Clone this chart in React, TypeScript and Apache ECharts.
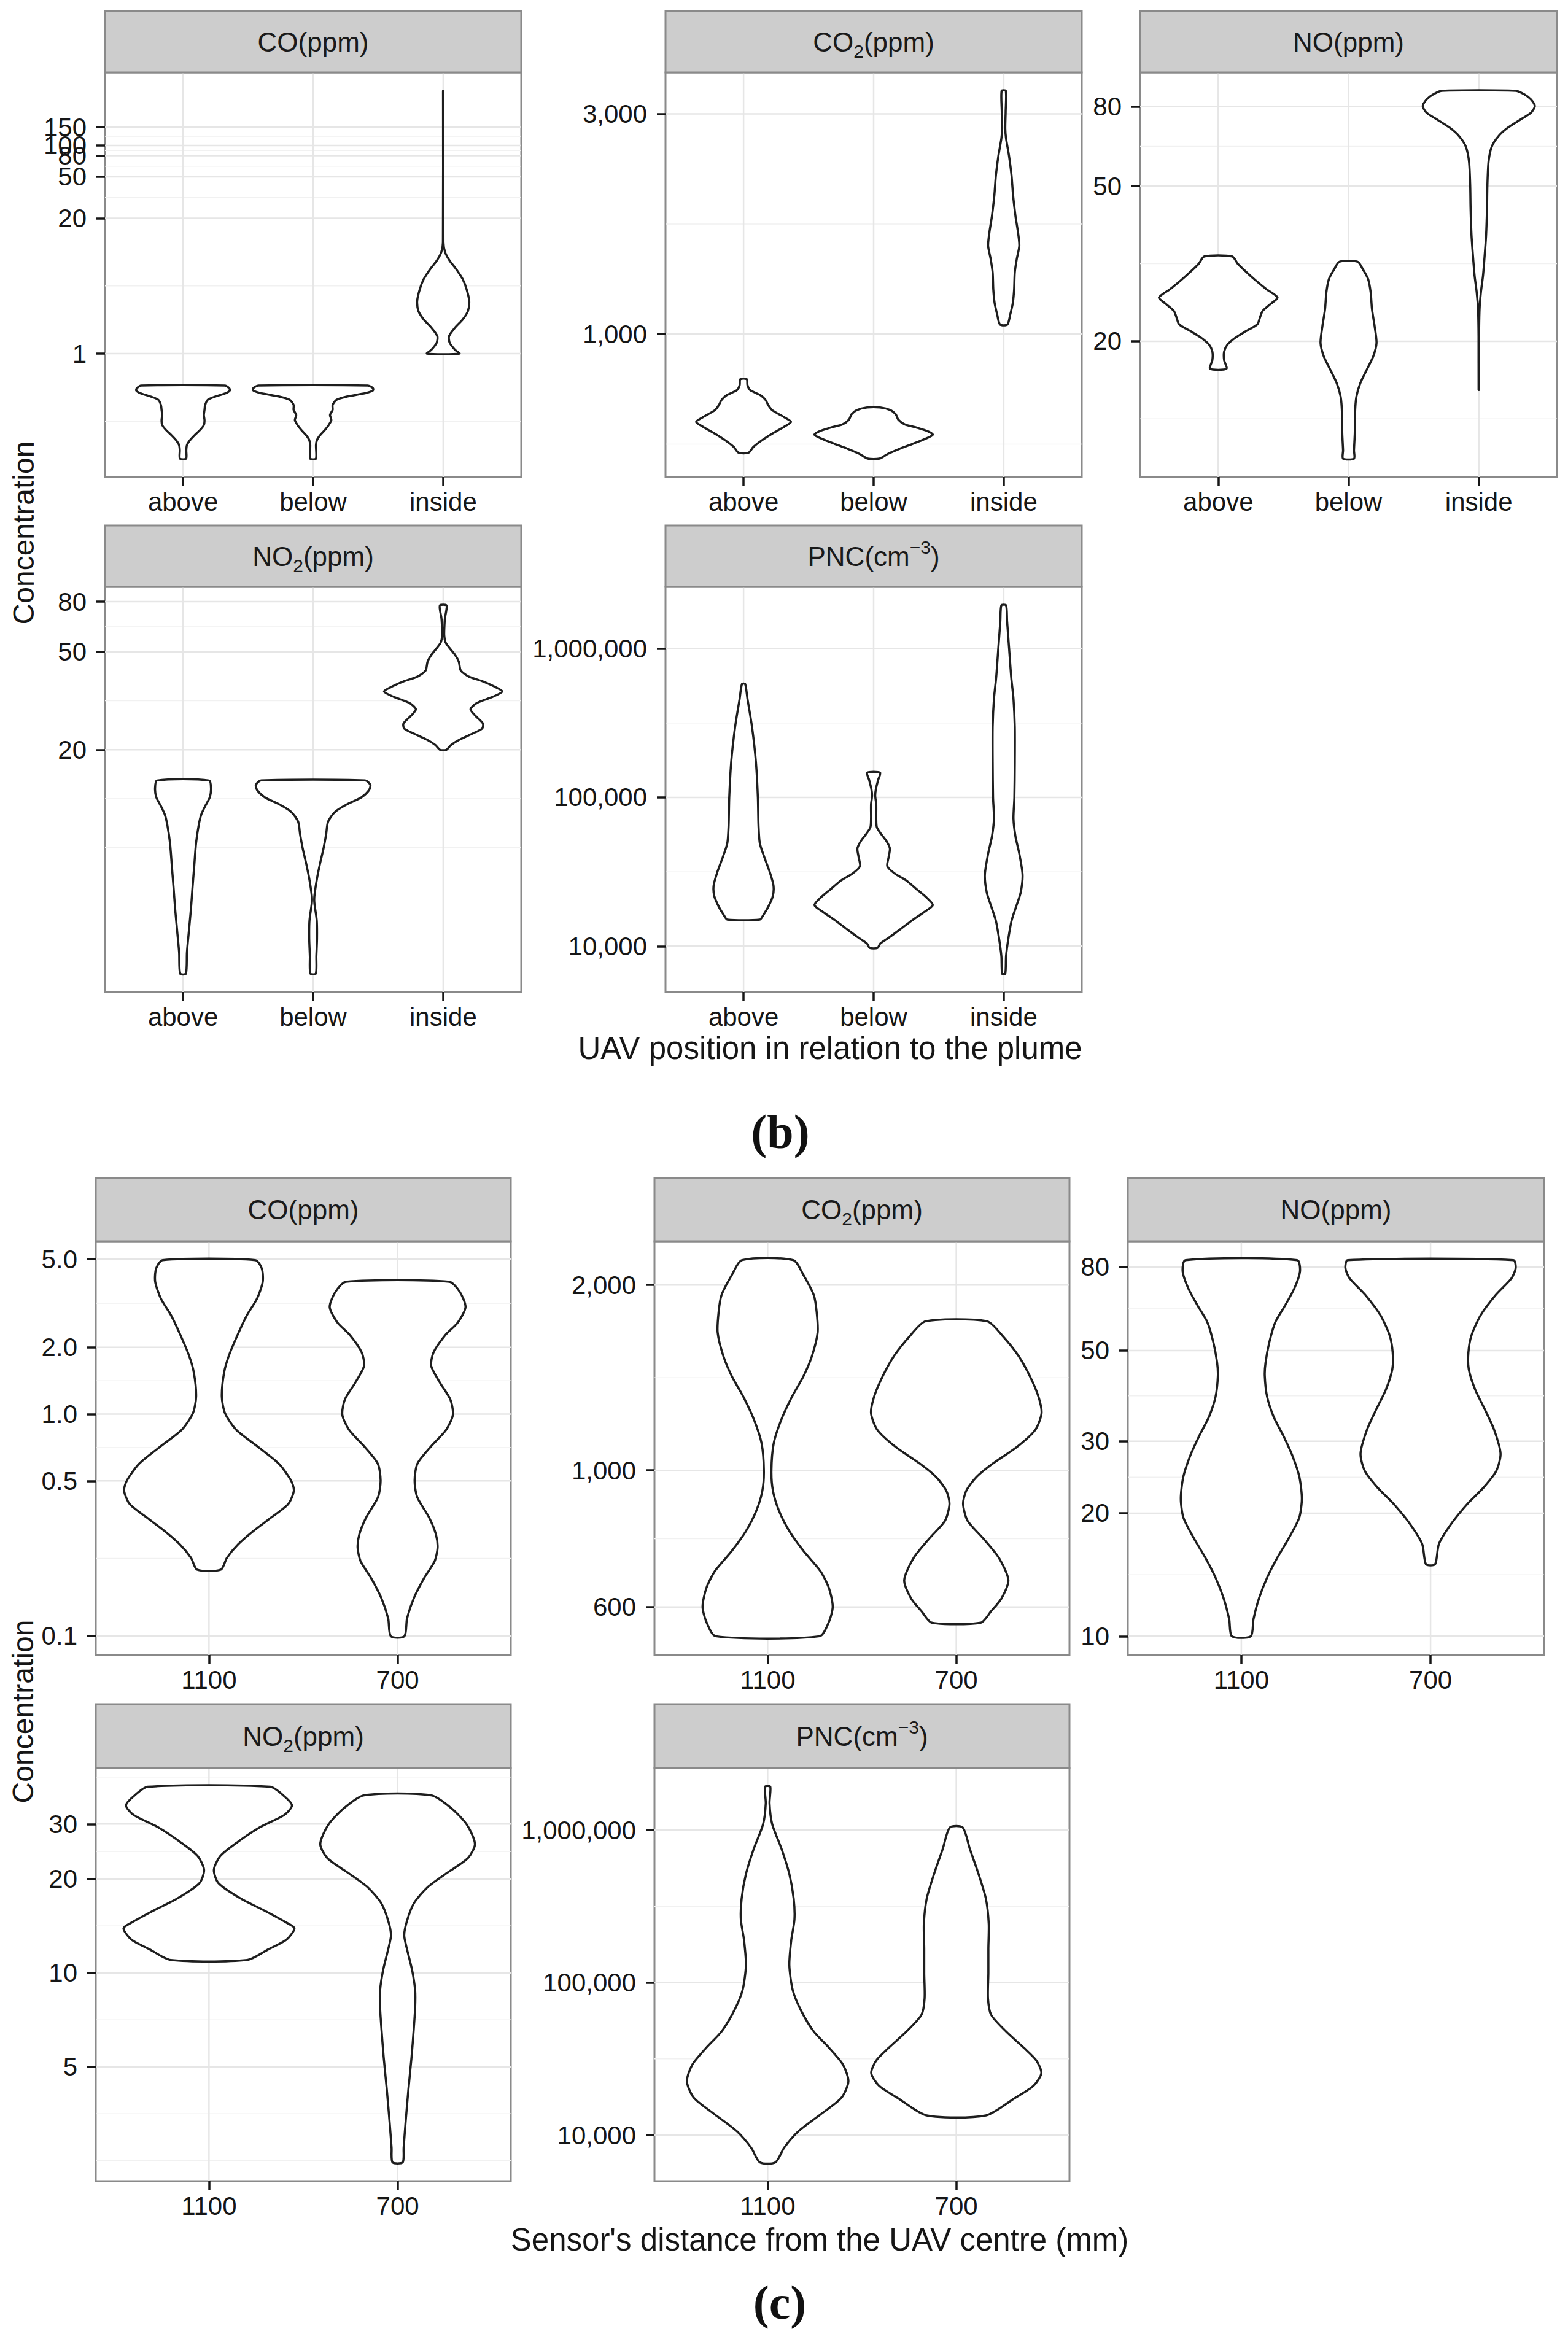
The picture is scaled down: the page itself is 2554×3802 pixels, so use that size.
import React, { useEffect, useRef } from 'react';
import * as echarts from 'echarts';

type Profile = [number, number][]; // [concentration, half-width in category units]

// ---------- categories ----------
const bCategories = ['above', 'below', 'inside'];
const cCategories = ['1100', '700'];

// ---------- (b) tick breaks ----------
const bCO_ticks = [1, 20, 50, 80, 100, 150];
const bCO_labels = ['1', '20', '50', '80', '100', '150'];
const bCO2_ticks = [1000, 3000];
const bCO2_labels = ['1,000', '3,000'];
const bNO_ticks = [20, 50, 80];
const bNO_labels = ['20', '50', '80'];
const bNO2_ticks = [20, 50, 80];
const bNO2_labels = ['20', '50', '80'];
const bPNC_ticks = [10000, 100000, 1000000];
const bPNC_labels = ['10,000', '100,000', '1,000,000'];

// ---------- (c) tick breaks ----------
const cCO_ticks = [0.1, 0.5, 1, 2, 5];
const cCO_labels = ['0.1', '0.5', '1.0', '2.0', '5.0'];
const cCO2_ticks = [600, 1000, 2000];
const cCO2_labels = ['600', '1,000', '2,000'];
const cNO_ticks = [10, 20, 30, 50, 80];
const cNO_labels = ['10', '20', '30', '50', '80'];
const cNO2_ticks = [5, 10, 20, 30];
const cNO2_labels = ['5', '10', '20', '30'];
const cPNC_ticks = [10000, 100000, 1000000];
const cPNC_labels = ['10,000', '100,000', '1,000,000'];

// ---------- (b) violin outlines ----------
const bCO_above: Profile = [[0.494, 0.32], [0.466, 0.355], [0.442, 0.36], [0.417, 0.33], [0.387, 0.25], [0.36, 0.19], [0.321, 0.17], [0.288, 0.165], [0.257, 0.16], [0.23, 0.165], [0.206, 0.16], [0.184, 0.13], [0.165, 0.09], [0.148, 0.055], [0.132, 0.03], [0.118, 0.025], [0.098, 0.024]];
const bCO_below: Profile = [[0.494, 0.42], [0.466, 0.46], [0.442, 0.46], [0.417, 0.4], [0.387, 0.26], [0.36, 0.18], [0.321, 0.15], [0.288, 0.15], [0.257, 0.13], [0.23, 0.14], [0.206, 0.12], [0.184, 0.09], [0.165, 0.055], [0.148, 0.03], [0.132, 0.022], [0.098, 0.022]];
const bCO_inside: Profile = [[335, 0.0012], [11.7, 0.002], [9.4, 0.015], [7.8, 0.05], [6.48, 0.1], [5.19, 0.15], [4.15, 0.18], [3.2, 0.2], [2.56, 0.19], [2.13, 0.15], [1.77, 0.09], [1.47, 0.045], [1.27, 0.05], [1.09, 0.09], [1.0, 0.125]];

const bCO2_above: Profile = [[798, 0.025], [775, 0.03], [756, 0.05], [737, 0.13], [719, 0.17], [701, 0.19], [684, 0.22], [661, 0.31], [645, 0.365], [629, 0.31], [608, 0.22], [588, 0.14], [569, 0.075], [553, 0.038]];
const bCO2_below: Profile = [[693, 0.05], [684, 0.13], [670, 0.17], [652, 0.19], [637, 0.24], [627, 0.33], [615, 0.42], [605, 0.455], [593, 0.4], [578, 0.3], [564, 0.2], [550, 0.11], [537, 0.045]];
const bCO2_inside: Profile = [[3367, 0.016], [3036, 0.015], [2791, 0.012], [2655, 0.018], [2442, 0.04], [2208, 0.06], [1998, 0.072], [1806, 0.09], [1661, 0.11], [1554, 0.12], [1453, 0.1], [1359, 0.085], [1249, 0.08], [1168, 0.07], [1102, 0.05], [1048, 0.028]];

const bNO_above: Profile = [[33.0, 0.107], [31.6, 0.15], [30.0, 0.22], [28.6, 0.29], [27.2, 0.37], [25.9, 0.455], [24.9, 0.4], [23.9, 0.34], [23.0, 0.32], [22.1, 0.3], [21.2, 0.21], [20.4, 0.13], [19.6, 0.07], [18.8, 0.045], [17.9, 0.045], [17.0, 0.063]];
const bNO_below: Profile = [[32.0, 0.07], [30.6, 0.11], [28.9, 0.15], [26.7, 0.17], [24.2, 0.18], [21.9, 0.2], [19.8, 0.215], [18.3, 0.19], [16.9, 0.14], [15.6, 0.09], [14.4, 0.06], [13.1, 0.05], [11.6, 0.048], [10.5, 0.042], [10.0, 0.042]];
const bNO_inside: Profile = [[87.8, 0.285], [86.0, 0.35], [83.5, 0.4], [80.2, 0.43], [77.1, 0.4], [74.1, 0.32], [70.5, 0.22], [67.1, 0.15], [63.2, 0.1], [57.8, 0.075], [50.3, 0.066], [43.8, 0.063], [37.4, 0.056], [33.2, 0.045], [29.4, 0.032], [26.7, 0.016], [24.2, 0.006], [20.6, 0.002], [15.0, 0.0015]];

const bNO2_above: Profile = [[15.0, 0.2], [13.9, 0.215], [12.8, 0.205], [11.8, 0.17], [10.9, 0.14], [9.84, 0.12], [8.34, 0.1], [6.62, 0.085], [5.43, 0.072], [4.46, 0.06], [3.66, 0.045], [3.0, 0.03], [2.46, 0.022]];
const bNO2_below: Profile = [[15.0, 0.4], [14.4, 0.44], [13.7, 0.43], [12.8, 0.37], [12.0, 0.26], [11.2, 0.17], [10.2, 0.115], [9.06, 0.1], [7.94, 0.08], [6.96, 0.055], [6.0, 0.03], [5.09, 0.01], [4.76, 0.01], [4.04, 0.028], [3.42, 0.03], [2.9, 0.025], [2.46, 0.021]];
const bNO2_inside: Profile = [[77.3, 0.025], [73.6, 0.024], [68.9, 0.014], [64.5, 0.01], [58.4, 0.008], [54.7, 0.018], [52.1, 0.045], [48.7, 0.09], [45.6, 0.12], [42.0, 0.135], [39.6, 0.2], [38.0, 0.3], [36.2, 0.39], [34.5, 0.455], [32.8, 0.38], [31.0, 0.26], [29.2, 0.21], [27.4, 0.25], [25.6, 0.305], [24.4, 0.3], [23.2, 0.22], [21.9, 0.12], [20.9, 0.06], [20.0, 0.025]];

const bPNC_above: Profile = [[579000, 0.012], [461000, 0.03], [298000, 0.065], [173000, 0.095], [100000, 0.11], [64600, 0.115], [49200, 0.125], [39600, 0.16], [31800, 0.2], [25600, 0.23], [21700, 0.225], [18400, 0.19], [16100, 0.15], [15100, 0.125]];
const bPNC_below: Profile = [[146600, 0.05], [131400, 0.035], [114600, 0.018], [102800, 0.012], [89700, 0.02], [72100, 0.02], [62900, 0.025], [56400, 0.06], [50600, 0.1], [45300, 0.125], [39600, 0.115], [34500, 0.105], [30900, 0.16], [27700, 0.25], [24200, 0.33], [21100, 0.41], [18900, 0.455], [17000, 0.39], [14800, 0.29], [12900, 0.2], [11300, 0.11], [10400, 0.05], [9730, 0.03]];
const bPNC_inside: Profile = [[1957000, 0.018], [1530000, 0.026], [989000, 0.042], [639000, 0.058], [461000, 0.075], [298000, 0.085], [173000, 0.085], [100000, 0.082], [72100, 0.075], [54900, 0.09], [41800, 0.12], [30100, 0.145], [22900, 0.13], [18400, 0.095], [14800, 0.06], [11300, 0.036], [8580, 0.018], [6540, 0.012]];

// ---------- (c) violin outlines ----------
const cCO_1100: Profile = [[4.95, 0.245], [4.54, 0.28], [3.95, 0.285], [3.32, 0.255], [2.78, 0.2], [2.26, 0.15], [1.83, 0.105], [1.537, 0.08], [1.203, 0.068], [1.01, 0.085], [0.849, 0.145], [0.712, 0.26], [0.598, 0.37], [0.502, 0.435], [0.452, 0.45], [0.393, 0.42], [0.342, 0.33], [0.297, 0.235], [0.259, 0.155], [0.225, 0.095], [0.199, 0.063]];
const cCO_700: Profile = [[3.95, 0.274], [3.555, 0.33], [3.038, 0.36], [2.596, 0.32], [2.258, 0.25], [1.895, 0.19], [1.648, 0.178], [1.384, 0.225], [1.162, 0.28], [0.993, 0.293], [0.849, 0.257], [0.712, 0.175], [0.598, 0.105], [0.502, 0.09], [0.422, 0.104], [0.342, 0.167], [0.287, 0.203], [0.25, 0.212], [0.217, 0.196], [0.182, 0.14], [0.148, 0.086], [0.12, 0.05], [0.0997, 0.036]];

const cCO2_1100: Profile = [[2195, 0.135], [2075, 0.19], [1924, 0.245], [1806, 0.26], [1675, 0.265], [1534, 0.235], [1422, 0.19], [1319, 0.13], [1208, 0.072], [1106, 0.032], [1000, 0.02], [927, 0.028], [860, 0.06], [797, 0.115], [740, 0.19], [686, 0.28], [644, 0.325], [601, 0.345], [568, 0.325], [538, 0.275]];
const cCO2_700: Profile = [[1746, 0.163], [1654, 0.245], [1534, 0.33], [1422, 0.39], [1319, 0.435], [1238, 0.452], [1163, 0.418], [1092, 0.322], [1025, 0.192], [975, 0.106], [927, 0.053], [882, 0.036], [828, 0.06], [777, 0.14], [721, 0.226], [664, 0.276], [620, 0.24], [590, 0.183], [566, 0.13]];

const cNO_1100: Profile = [[83.2, 0.295], [78.0, 0.31], [70.9, 0.28], [64.5, 0.232], [58.7, 0.18], [52.4, 0.148], [46.7, 0.128], [43.3, 0.124], [38.6, 0.136], [34.5, 0.17], [30.8, 0.224], [27.5, 0.272], [24.5, 0.307], [21.7, 0.32], [19.5, 0.306], [17.4, 0.252], [15.5, 0.188], [13.9, 0.136], [12.4, 0.094], [11.0, 0.064], [10.0, 0.05]];
const cNO_700: Profile = [[83.2, 0.438], [79.5, 0.45], [75.1, 0.428], [68.3, 0.344], [60.9, 0.264], [54.4, 0.216], [49.4, 0.2], [45.0, 0.202], [40.1, 0.236], [35.8, 0.288], [32.0, 0.336], [28.0, 0.37], [25.4, 0.348], [23.1, 0.28], [21.0, 0.192], [18.8, 0.108], [16.8, 0.044], [15.0, 0.024]];

const cNO2_1100: Profile = [[39.5, 0.324], [36.8, 0.4], [34.4, 0.44], [32.1, 0.4], [29.3, 0.27], [26.3, 0.153], [23.7, 0.06], [21.4, 0.026], [19.4, 0.05], [17.4, 0.162], [15.7, 0.306], [14.5, 0.41], [13.9, 0.453], [12.8, 0.412], [11.9, 0.315], [11.0, 0.203]];
const cNO2_700: Profile = [[37.1, 0.178], [33.6, 0.288], [29.8, 0.368], [25.9, 0.41], [23.3, 0.372], [20.9, 0.261], [18.8, 0.158], [16.7, 0.086], [14.7, 0.05], [13.2, 0.035], [11.9, 0.05], [10.2, 0.077], [8.77, 0.093], [7.76, 0.093], [6.66, 0.086], [5.38, 0.074], [4.21, 0.057], [3.3, 0.042], [2.75, 0.032], [2.47, 0.027]];

const cPNC_1100: Profile = [[1925000, 0.014], [1498000, 0.01], [1095000, 0.024], [752000, 0.074], [516000, 0.115], [355000, 0.138], [259000, 0.142], [189500, 0.125], [130100, 0.115], [89300, 0.133], [65300, 0.178], [47700, 0.245], [37200, 0.327], [28900, 0.4], [22500, 0.428], [17500, 0.39], [13640, 0.279], [10600, 0.163], [8260, 0.087], [6630, 0.041]];
const cPNC_700: Profile = [[1041000, 0.034], [752000, 0.072], [516000, 0.118], [355000, 0.157], [243000, 0.172], [167200, 0.17], [114800, 0.17], [78800, 0.168], [61400, 0.185], [47700, 0.265], [37200, 0.36], [30800, 0.425], [25500, 0.451], [21100, 0.41], [17500, 0.31], [13470, 0.157]];

// ---------- texts ----------
const bXTitle = 'UAV position in relation to the plume';
const cXTitle = "Sensor's distance from the UAV centre (mm)";
const yTitle = 'Concentration';
const bCaption = '(b)';
const cCaption = '(c)';

interface PanelSpec {
  fig: 'b' | 'c';
  row: number;
  col: number;
  title: string;
  cats: string[];
  violins: Profile[];
  ticks: number[];
  tickLabels: string[];
}

const panels: PanelSpec[] = [
  { fig: 'b', row: 0, col: 0, title: '{n|CO(ppm)}', cats: bCategories, violins: [bCO_above, bCO_below, bCO_inside], ticks: bCO_ticks, tickLabels: bCO_labels },
  { fig: 'b', row: 0, col: 1, title: '{n|CO}{s|2}{n|(ppm)}', cats: bCategories, violins: [bCO2_above, bCO2_below, bCO2_inside], ticks: bCO2_ticks, tickLabels: bCO2_labels },
  { fig: 'b', row: 0, col: 2, title: '{n|NO(ppm)}', cats: bCategories, violins: [bNO_above, bNO_below, bNO_inside], ticks: bNO_ticks, tickLabels: bNO_labels },
  { fig: 'b', row: 1, col: 0, title: '{n|NO}{s|2}{n|(ppm)}', cats: bCategories, violins: [bNO2_above, bNO2_below, bNO2_inside], ticks: bNO2_ticks, tickLabels: bNO2_labels },
  { fig: 'b', row: 1, col: 1, title: '{n|PNC(cm}{p|\u22123}{n|)}', cats: bCategories, violins: [bPNC_above, bPNC_below, bPNC_inside], ticks: bPNC_ticks, tickLabels: bPNC_labels },
  { fig: 'c', row: 0, col: 0, title: '{n|CO(ppm)}', cats: cCategories, violins: [cCO_1100, cCO_700], ticks: cCO_ticks, tickLabels: cCO_labels },
  { fig: 'c', row: 0, col: 1, title: '{n|CO}{s|2}{n|(ppm)}', cats: cCategories, violins: [cCO2_1100, cCO2_700], ticks: cCO2_ticks, tickLabels: cCO2_labels },
  { fig: 'c', row: 0, col: 2, title: '{n|NO(ppm)}', cats: cCategories, violins: [cNO_1100, cNO_700], ticks: cNO_ticks, tickLabels: cNO_labels },
  { fig: 'c', row: 1, col: 0, title: '{n|NO}{s|2}{n|(ppm)}', cats: cCategories, violins: [cNO2_1100, cNO2_700], ticks: cNO2_ticks, tickLabels: cNO2_labels },
  { fig: 'c', row: 1, col: 1, title: '{n|PNC(cm}{p|\u22123}{n|)}', cats: cCategories, violins: [cPNC_1100, cPNC_700], ticks: cPNC_ticks, tickLabels: cPNC_labels },
];

// ---------- layout (pixels) ----------
const LAYOUT: any = {
  b: {
    cols: [[171, 678], [1084, 678], [1857, 679]],
    rows: [{ strip: 18, top: 118, bottom: 777 }, { strip: 856, top: 956, bottom: 1616 }],
    xTitle: { x: 1352, y: 1707 },
    yTitle: { x: 38, y: 868 },
    caption: { x: 1271, y: 1843 },
  },
  c: {
    cols: [[156, 676], [1066, 676], [1837, 678]],
    rows: [{ strip: 1919, top: 2022, bottom: 2696 }, { strip: 2776, top: 2880, bottom: 3553 }],
    xTitle: { x: 1335, y: 3648 },
    yTitle: { x: 37, y: 2788 },
    caption: { x: 1270, y: 3750 },
  },
};

const FONT = "'Liberation Sans', Arial, Helvetica, sans-serif";
const SERIF = "'Liberation Serif', 'DejaVu Serif', serif";
const TEXT_COLOR = '#161616';
const BORDER = '#8a8a8a';
const STRIP_FILL = '#cdcdcd';
const GRID_MAJOR = '#e6e6e6';
const GRID_MINOR = '#f1f1f1';
const OUTLINE = '#1e1e1e';

function minorBreaks(major: number[], lo: number, hi: number): number[] {
  const b = major.slice();
  if (b.length < 2) return [];
  const bd = b[1] - b[0];
  if (lo < b[0]) b.unshift(b[0] - bd);
  if (hi > b[b.length - 1]) b.push(b[b.length - 1] + bd);
  const out: number[] = [];
  for (let i = 0; i < b.length - 1; i++) {
    out.push(b[i], (b[i] + b[i + 1]) / 2);
  }
  out.push(b[b.length - 1]);
  return out.filter((v) => v >= lo && v <= hi && !major.some((m) => Math.abs(m - v) < 1e-9));
}

function buildOption() {
  const grid: any[] = [];
  const xAxis: any[] = [];
  const yAxis: any[] = [];
  const series: any[] = [];
  const graphic: any[] = [];

  panels.forEach((p, i) => {
    const L = LAYOUT[p.fig];
    const [left, width] = L.cols[p.col];
    const r = L.rows[p.row];
    const top = r.top;
    const height = r.bottom - r.top;

    const logs = p.violins.flatMap((v) => v.map((d) => Math.log10(d[0])));
    const dmin = Math.min(...logs);
    const dmax = Math.max(...logs);
    const pad = (dmax - dmin) * 0.05;
    const lo = dmin - pad;
    const hi = dmax + pad;
    const n = p.cats.length;
    const xmin = 0.4;
    const xmax = n + 0.6;
    const catPos = p.cats.map((_, k) => k + 1);
    const tickLogs = p.ticks.map((t) => Math.log10(t));

    grid.push({ left, top, width, height, show: true, borderColor: BORDER, borderWidth: 3, backgroundColor: '#ffffff', containLabel: false });

    xAxis.push({
      type: 'value', gridIndex: i, min: xmin, max: xmax,
      axisLine: { show: false, onZero: false },
      splitLine: { show: false },
      axisTick: { show: true, customValues: catPos, length: 14, lineStyle: { color: TEXT_COLOR, width: 3.5 } },
      axisLabel: {
        show: true, customValues: catPos, margin: 19, fontSize: 42, color: TEXT_COLOR, fontFamily: FONT,
        hideOverlap: false,
        formatter: (v: number) => p.cats[Math.round(v) - 1] ?? '',
      },
    });

    // two y axes per panel (alternating breaks) so that closely spaced labels are all kept
    const labelFor = (v: number) => {
      let best = 0;
      tickLogs.forEach((t, k) => { if (Math.abs(t - v) < Math.abs(tickLogs[best] - v)) best = k; });
      return p.tickLabels[best];
    };
    [0, 1].forEach((parity) => {
      const vals = tickLogs.filter((_, k) => k % 2 === parity);
      yAxis.push({
        type: 'value', gridIndex: i, min: lo, max: hi, position: 'left', offset: 0,
        show: vals.length > 0,
        axisLine: { show: false, onZero: false },
        splitLine: { show: false },
        axisTick: { show: vals.length > 0, customValues: vals.length ? vals : [lo], length: 14, lineStyle: { color: TEXT_COLOR, width: 3.5 } },
        axisLabel: {
          show: vals.length > 0, customValues: vals.length ? vals : [lo], margin: 30, fontSize: 42, color: TEXT_COLOR, fontFamily: FONT,
          hideOverlap: false,
          formatter: labelFor,
        },
      });
    });
    const yIdx = 2 * i;

    // grid lines (minor, major horizontal, vertical)
    const gridData: number[][] = [];
    minorBreaks(tickLogs, lo, hi).forEach((v) => gridData.push([0, v]));
    tickLogs.forEach((v) => gridData.push([1, v]));
    catPos.forEach((v) => gridData.push([2, v]));
    series.push({
      type: 'custom', xAxisIndex: i, yAxisIndex: yIdx, z: 1, silent: true, animation: false,
      data: gridData,
      renderItem: (_params: any, api: any) => {
        const kind = api.value(0);
        const v = api.value(1);
        if (kind === 2) {
          const a = api.coord([v, lo]);
          const b = api.coord([v, hi]);
          return { type: 'line', shape: { x1: a[0], y1: a[1], x2: b[0], y2: b[1] }, style: { stroke: GRID_MAJOR, lineWidth: 2.5 } };
        }
        const a = api.coord([xmin, v]);
        const b = api.coord([xmax, v]);
        return {
          type: 'line', shape: { x1: a[0], y1: a[1], x2: b[0], y2: b[1] },
          style: { stroke: kind === 1 ? GRID_MAJOR : GRID_MINOR, lineWidth: kind === 1 ? 2.5 : 1.5 },
        };
      },
    });

    // violins
    series.push({
      type: 'custom', xAxisIndex: i, yAxisIndex: yIdx, z: 3, silent: true, animation: false,
      data: p.violins.map((_, k) => [k + 1, k]),
      renderItem: (params: any, api: any) => {
        const prof = p.violins[params.dataIndex];
        const cx = api.value(0);
        const right = prof.map(([val, hw]) => api.coord([cx + hw, Math.log10(val)]));
        const leftSide = prof.slice().reverse().map(([val, hw]) => api.coord([cx - hw, Math.log10(val)]));
        return {
          type: 'polygon',
          shape: { points: right.concat(leftSide), smooth: 0.25 },
          style: { fill: '#ffffff', stroke: OUTLINE, lineWidth: 3.5, lineJoin: 'round' },
        };
      },
    });

    // strip
    graphic.push({
      type: 'rect', z: 10, silent: true,
      shape: { x: left, y: r.strip, width, height: top - r.strip },
      style: { fill: STRIP_FILL, stroke: BORDER, lineWidth: 3 },
    });
    graphic.push({
      type: 'text', z: 11, silent: true,
      x: left + width / 2, y: (r.strip + top) / 2,
      style: {
        text: p.title,
        align: 'center', verticalAlign: 'middle', textAlign: 'center', textVerticalAlign: 'middle',
        fill: '#1a1a1a',
        rich: {
          n: { fontSize: 44, fontFamily: FONT, fill: '#1a1a1a', color: '#1a1a1a', lineHeight: 60 },
          s: { fontSize: 30, fontFamily: FONT, fill: '#1a1a1a', color: '#1a1a1a', lineHeight: 30, verticalAlign: 'bottom' },
          p: { fontSize: 30, fontFamily: FONT, fill: '#1a1a1a', color: '#1a1a1a', lineHeight: 30, verticalAlign: 'top' },
        },
      },
    });
  });

  (['b', 'c'] as const).forEach((f) => {
    const L = LAYOUT[f];
    graphic.push({
      type: 'text', silent: true, x: L.xTitle.x, y: L.xTitle.y,
      style: { text: f === 'b' ? bXTitle : cXTitle, fontSize: 51, fontFamily: FONT, fill: TEXT_COLOR, align: 'center', verticalAlign: 'middle', textAlign: 'center', textVerticalAlign: 'middle' },
    });
    graphic.push({
      type: 'text', silent: true, x: L.yTitle.x, y: L.yTitle.y, rotation: Math.PI / 2,
      style: { text: yTitle, fontSize: 48, fontFamily: FONT, fill: TEXT_COLOR, align: 'center', verticalAlign: 'middle', textAlign: 'center', textVerticalAlign: 'middle' },
    });
    graphic.push({
      type: 'text', silent: true, x: L.caption.x, y: L.caption.y,
      style: { text: f === 'b' ? bCaption : cCaption, fontSize: 78, fontWeight: 'bold', fontFamily: SERIF, fill: '#111111', align: 'center', verticalAlign: 'middle', textAlign: 'center', textVerticalAlign: 'middle' },
    });
  });

  return {
    animation: false,
    backgroundColor: '#ffffff',
    grid, xAxis, yAxis, series, graphic,
  };
}

export default function App() {
  const ref = useRef<HTMLDivElement>(null);
  useEffect(() => {
    document.body.style.margin = '0';
    const chart = echarts.init(ref.current as HTMLDivElement, null, { renderer: 'svg' });
    chart.setOption(buildOption() as any);
    return () => chart.dispose();
  }, []);
  return <div ref={ref} style={{ width: 2554, height: 3802, background: '#ffffff' }} />;
}
